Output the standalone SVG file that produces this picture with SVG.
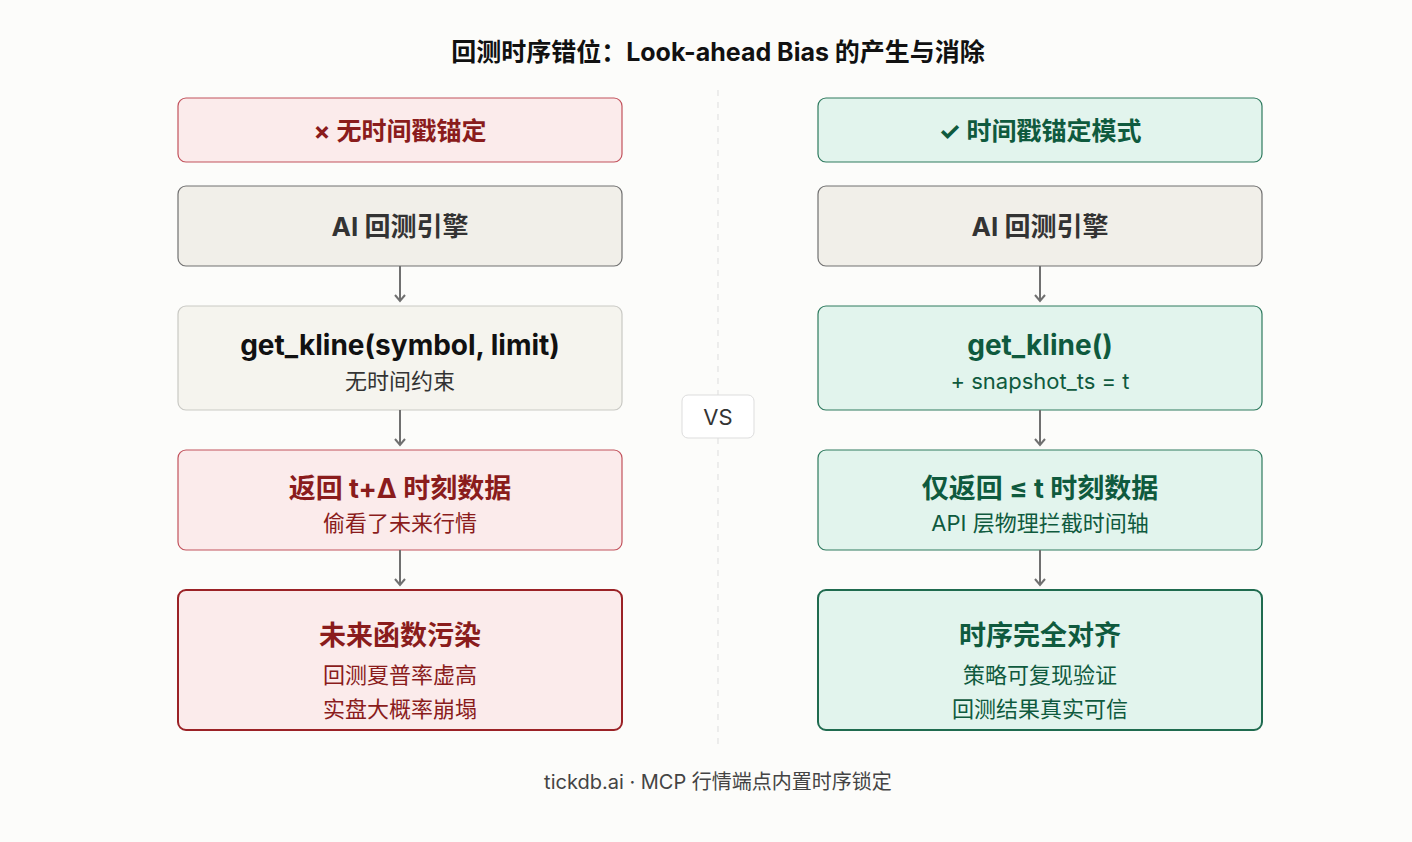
<svg xmlns="http://www.w3.org/2000/svg" width="1412" height="842" viewBox="0 0 1412 842">
<style>
text{font-family:"Inter","Noto Sans CJK SC",sans-serif;text-anchor:middle}
.red{fill:#fbebeb;stroke:#c2525c;stroke-width:1.2}
.redS{fill:#fbebeb;stroke:#9b2226;stroke-width:2}
.gray{fill:#f1efe9;stroke:#707070;stroke-width:1.2}
.light{fill:#f5f4ee;stroke:#c9c9c4;stroke-width:1.2}
.grn{fill:#e2f4ed;stroke:#2e7a5e;stroke-width:1.2}
.grnS{fill:#e2f4ed;stroke:#1f6b4f;stroke-width:2}
.tr{fill:#8a1c1c}.tg{fill:#0f5a3e}.tk{fill:#333}
.b{font-weight:700}
.arr{stroke:#707070;stroke-width:2;fill:none;marker-end:url(#ah)}
</style>
<defs><marker id="ah" markerWidth="12" markerHeight="12" refX="7" refY="6" orient="auto" markerUnits="userSpaceOnUse"><path d="M1,1 L7,6 L1,11" fill="none" stroke="#707070" stroke-width="2"/></marker></defs>
<rect width="1412" height="842" fill="#fcfcfa"/>
<text x="718" y="61" font-size="25" class="b" fill="#111">回测时序错位：Look-ahead Bias 的产生与消除</text>
<line x1="718" y1="90" x2="718" y2="750" stroke="#ddd" stroke-dasharray="6,6"/>
<g id="vs"><rect x="682" y="395" width="72" height="43" rx="6" fill="#fff" stroke="#ddd"/><text x="718" y="425" font-size="22" fill="#333">VS</text></g>
<g id="l1"><rect class="red" x="178" y="98" width="444" height="64" rx="8"/><text x="400" y="140" font-size="25" class="tr b">× 无时间戳锚定</text></g>
<g id="l2"><rect class="gray" x="178" y="186" width="444" height="80" rx="8"/><text x="400" y="236" font-size="26" class="tk b">AI 回测引擎</text></g>
<g id="l3"><rect class="light" x="178" y="306" width="444" height="104" rx="8"/><text x="400" y="355" font-size="28" class="b" fill="#111">get_kline(symbol, limit)</text><text x="400" y="389" font-size="22" class="tk">无时间约束</text></g>
<g id="l4"><rect class="red" x="178" y="450" width="444" height="100" rx="8"/><text x="400" y="498" font-size="27" class="tr b">返回 t+Δ 时刻数据</text><text x="400" y="531" font-size="22" class="tr">偷看了未来行情</text></g>
<g id="l5"><rect class="redS" x="178" y="590" width="444" height="140" rx="8"/><text x="400" y="645" font-size="27" class="tr b">未来函数污染</text><text x="400" y="683" font-size="22" class="tr">回测夏普率虚高</text><text x="400" y="717" font-size="22" class="tr">实盘大概率崩塌</text></g>
<g id="r1"><rect class="grn" x="818" y="98" width="444" height="64" rx="8"/><text x="1040" y="140" font-size="25" class="tg b">✓ 时间戳锚定模式</text></g>
<g id="r2"><rect class="gray" x="818" y="186" width="444" height="80" rx="8"/><text x="1040" y="236" font-size="26" class="tk b">AI 回测引擎</text></g>
<g id="r3"><rect class="grn" x="818" y="306" width="444" height="104" rx="8"/><text x="1040" y="355" font-size="28" class="tg b">get_kline()</text><text x="1040" y="389" font-size="22" class="tg">+ snapshot_ts = t</text></g>
<g id="r4"><rect class="grn" x="818" y="450" width="444" height="100" rx="8"/><text x="1040" y="498" font-size="27" class="tg b">仅返回 ≤ t 时刻数据</text><text x="1040" y="531" font-size="22" class="tg">API 层物理拦截时间轴</text></g>
<g id="r5"><rect class="grnS" x="818" y="590" width="444" height="140" rx="8"/><text x="1040" y="645" font-size="27" class="tg b">时序完全对齐</text><text x="1040" y="683" font-size="22" class="tg">策略可复现验证</text><text x="1040" y="717" font-size="22" class="tg">回测结果真实可信</text></g>
<g id="connectors">
<path class="arr" d="M400,266 V301"/><path class="arr" d="M400,410 V445"/><path class="arr" d="M400,550 V585"/>
<path class="arr" d="M1040,266 V301"/><path class="arr" d="M1040,410 V445"/><path class="arr" d="M1040,550 V585"/>
</g>
<text x="718" y="789" font-size="20" fill="#444">tickdb.ai · MCP 行情端点内置时序锁定</text>
</svg>
